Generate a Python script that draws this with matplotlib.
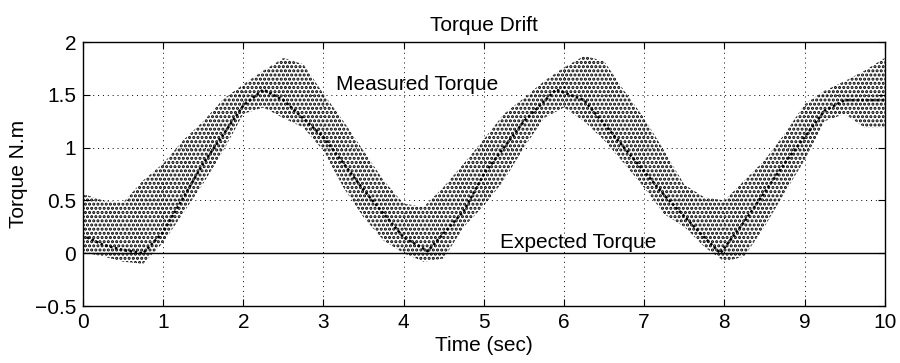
# torque_drift.py
# Measured vs expected torque over 10 seconds

import matplotlib
matplotlib.use('Agg')
import matplotlib.pyplot as plt

time_s = [0.0, 0.05, 0.25, 0.5, 0.75, 1.0, 1.25, 1.5, 1.75, 2.0, 2.25, 2.5,
          2.75, 3.0, 3.25, 3.5, 3.75, 4.0, 4.25, 4.5, 4.75, 5.0, 5.25, 5.5,
          5.75, 6.0, 6.25, 6.5, 6.75, 7.0, 7.25, 7.5, 7.75, 8.0, 8.25, 8.5,
          8.75, 9.0, 9.25, 9.5, 9.75, 10.0]
# upper / lower edge of the measured torque cloud (N.m)
band_top = [0.55, 0.55, 0.50, 0.48, 0.69, 0.85, 1.07, 1.25, 1.46, 1.60, 1.73, 1.85,
            1.79, 1.51, 1.25, 0.97, 0.69, 0.47, 0.44, 0.63, 0.85, 1.08, 1.32, 1.47,
            1.63, 1.76, 1.87, 1.82, 1.54, 1.28, 0.97, 0.65, 0.53, 0.50, 0.69, 0.88,
            1.13, 1.41, 1.54, 1.63, 1.73, 1.85]
band_bottom = [0.0, 0.0, -0.03, -0.08, -0.1, 0.1, 0.38, 0.66, 0.97, 1.32, 1.38, 1.28,
               1.19, 0.97, 0.62, 0.34, 0.12, 0.0, -0.08, -0.05, 0.25, 0.45, 0.69, 1.0,
               1.28, 1.38, 1.25, 1.07, 0.85, 0.62, 0.37, 0.25, 0.06, -0.08, -0.03, 0.25,
               0.57, 0.88, 1.25, 1.32, 1.19, 1.19]
# dense ridge through the middle of the cloud
ridge_t = [0.05, 0.25, 0.5, 0.75, 1.0, 1.5, 2.0, 2.25, 2.5, 3.0, 3.5, 4.0, 4.3,
           4.75, 5.0, 5.5, 5.9, 6.25, 6.75, 7.25, 7.75, 7.95, 8.25, 8.75, 9.0,
           9.25, 9.5, 10.0]
ridge_v = [0.15, 0.08, 0.03, 0.0, 0.2, 0.85, 1.4, 1.55, 1.45, 1.1, 0.6, 0.15, 0.02,
           0.4, 0.75, 1.25, 1.55, 1.45, 1.0, 0.55, 0.15, 0.0, 0.3, 0.85, 1.1,
           1.35, 1.45, 1.45]

expected_t = [0.0, 10.0]
expected_v = [0.0, 0.0]

x_ticks = [0, 1, 2, 3, 4, 5, 6, 7, 8, 9, 10]
y_ticks = [-0.5, 0, 0.5, 1, 1.5, 2]
y_labels = ['\u22120.5', '0', '0.5', '1', '1.5', '2']

plt.rcParams['font.family'] = ['Liberation Sans', 'DejaVu Sans']
plt.rcParams['hatch.linewidth'] = 1.5

fig = plt.figure(figsize=(9, 3.63), dpi=100)
ax = fig.add_axes([0.0922, 0.157, 0.8908, 0.727])

# measured torque cloud: dotted band between the read envelopes
ax.fill_between(time_s, band_bottom, band_top, facecolor='none',
                edgecolor='black', hatch='....', linewidth=0)
ax.plot(ridge_t, ridge_v, color='black', linestyle=(0, (1, 1)), linewidth=1.8)

# expected torque
ax.plot(expected_t, expected_v, color='black', linewidth=1.0)

ax.text(3.15, 1.6, 'Measured Torque', fontsize=15, va='center', ha='left')
ax.text(5.2, 0.1, 'Expected Torque', fontsize=15, va='center', ha='left')

ax.set_xlim(0, 10)
ax.set_ylim(-0.5, 2)
ax.set_xticks(x_ticks)
ax.set_xticklabels([str(t) for t in x_ticks])
ax.set_yticks(y_ticks)
ax.set_yticklabels(y_labels)
ax.tick_params(direction='in', length=5, width=0.8, top=True, right=True,
               labelsize=15, pad=5)
ax.grid(True, color='black', linestyle=(0, (1, 4)), linewidth=0.7)
for s in ax.spines.values():
    s.set_linewidth(1.0)

ax.set_title('Torque Drift', fontsize=15, pad=8)
ax.set_xlabel('Time (sec)', fontsize=15, labelpad=3)
ax.set_ylabel('Torque N.m', fontsize=15, labelpad=5)

fig.savefig('out.png', dpi=100)
